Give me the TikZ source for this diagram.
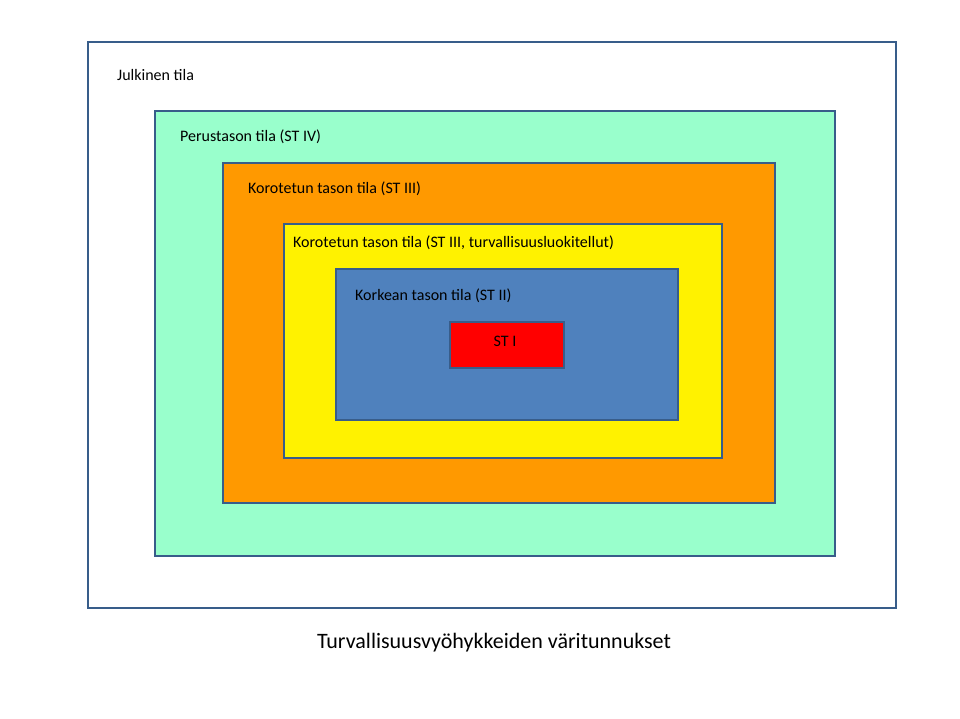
\documentclass[tikz,border=0pt]{standalone}
\usepackage{fontspec}
\setmainfont{Carlito}
\definecolor{bord}{HTML}{385D8A}
\begin{document}
\begin{tikzpicture}[x=1pt,y=-1pt,
  zone/.style={draw=bord,line width=2.5pt},
  lbl/.style={anchor=west,inner sep=0pt,font=\fontsize{16}{18}\selectfont}]
\useasboundingbox (0,0) rectangle (960,719);
\fill[white] (0,0) rectangle (960,719);
\draw[zone,fill=white] (88,42) rectangle (896,608);
\draw[zone,fill={rgb,255:red,153;green,255;blue,204}] (155,111) rectangle (835,556);
\draw[zone,fill={rgb,255:red,255;green,153;blue,0}] (223,163) rectangle (775,503);
\draw[zone,fill=yellow] (284,224) rectangle (722,458);
\draw[zone,fill={rgb,255:red,79;green,129;blue,189}] (336,269) rectangle (678,420);
\draw[zone,fill=red] (450,322) rectangle (564,368);
\node[lbl] (l1) at (117,75) {Julkinen tila};
\node[lbl] (l2) at (180,137) {Perustason tila (ST IV)};
\node[lbl] (l3) at (248,189) {Korotetun tason tila (ST III)};
\node[lbl] (l4) at (293,243) {Korotetun tason tila (ST III, turvallisuusluokitellut)};
\node[lbl] (l5) at (355,296) {Korkean tason tila (ST II)};
\node[inner sep=0pt,font=\fontsize{16}{18}\selectfont] (l6) at (505,341) {ST I};
\node[inner sep=0pt,font=\fontsize{22}{26}\selectfont] (t) at (494,643) {Turvallisuusvyöhykkeiden väritunnukset};
\end{tikzpicture}
\end{document}
